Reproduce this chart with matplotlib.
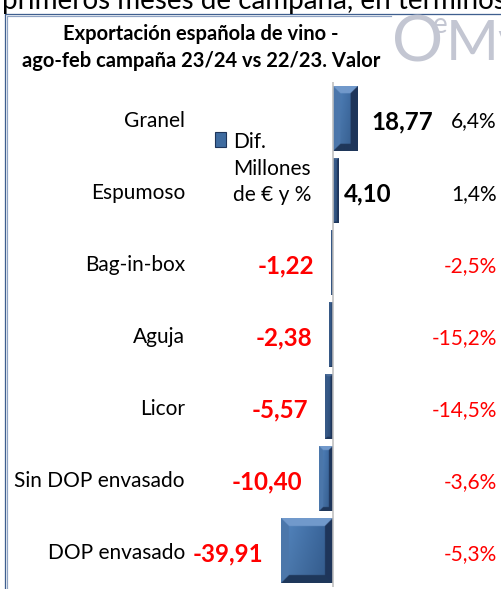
import numpy as np
import matplotlib
matplotlib.use('Agg')
import matplotlib.pyplot as plt
from matplotlib.lines import Line2D
from matplotlib.colors import to_rgb

# ---------------- data ----------------
categories = ['Granel', 'Espumoso', 'Bag-in-box', 'Aguja', 'Licor',
              'Sin DOP envasado', 'DOP envasado']
diff_values = [18.77, 4.10, -1.22, -2.38, -5.57, -10.40, -39.91]
pct_values = [6.4, 1.4, -2.5, -15.2, -14.5, -3.6, -5.3]
title_lines = ['Exportación española de vino -',
               'ago-feb campaña 23/24 vs 22/23. Valor']
legend_label = 'Dif.\nMillones\nde € y %'
header_text = 'primeros meses de campaña, en términos'

# ---------------- style ----------------
W, H, DPI = 502, 589, 100
PT = 72.0 / DPI
plt.rcParams['font.family'] = ['Lato', 'DejaVu Sans']
RED = '#FF0000'
value_gap_px = [14, 6, 17, 17, 17, 17, 17]


def fx(px):
    return px / W


def fy(py):
    return 1 - py / H


fig = plt.figure(figsize=(W / DPI, H / DPI), dpi=DPI)
fig.patch.set_facecolor('white')

ax_left, ax_right, ax_top, ax_bottom = 190, 500, 82.5, 587
ax = fig.add_axes([fx(ax_left), fy(ax_bottom), (ax_right - ax_left) / W,
                   (ax_bottom - ax_top) / H])
ax.set_facecolor('none')

ypos = np.arange(len(categories))
bars = ax.barh(ypos, diff_values, height=0.9, color='#3F6B9F',
               edgecolor='none', label=legend_label, zorder=2)
zero_px, scale = 332.5, 1.3
xlim = (-(zero_px - ax_left) / scale, (ax_right - zero_px) / scale)
ylim = (len(categories) - 0.5, -0.5)
ax.set_xlim(*xlim)
ax.set_ylim(*ylim)
ax.axvline(0, color='#BFBFBF', lw=1.6 * PT, zorder=4)

for s in ax.spines.values():
    s.set_visible(False)
ax.set_xticks([])
ax.set_yticks(ypos, categories, fontsize=15, color='black')
ax.tick_params(axis='y', length=0, pad=5 * PT)

# ---------------- bevel effect on bars ----------------
fig.canvas.draw()
renderer = fig.canvas.get_renderer()
c_top = np.array(to_rgb('#7199CB'))
c_bot = np.array(to_rgb('#1F375A'))
c_left = np.array(to_rgb('#4C77AB'))
c_right = np.array(to_rgb('#1E355A'))
c_c1 = np.array(to_rgb('#5282B9'))
c_c2 = np.array(to_rgb('#335C8F'))
for rect in bars:
    bb = rect.get_window_extent(renderer)
    pw, ph = bb.width, bb.height
    if pw < 0.5:
        continue
    ss = 4
    nx, ny = max(int(np.ceil(pw * ss)), 2), max(int(np.ceil(ph * ss)), 2)
    X = (np.arange(nx) + 0.5) / nx * pw
    Y = (np.arange(ny) + 0.5) / ny * ph
    XX, YY = np.meshgrid(X, Y)
    d = np.stack([YY, ph - YY, XX, pw - XX])
    b = min(8.0, pw * 0.3, ph * 0.3)
    idx = d.argmin(0)
    dmin = d.min(0)
    t = np.clip(XX / pw, 0, 1)[..., None]
    img = c_c1 * (1 - t) + c_c2 * t
    tv = np.clip(YY / ph, 0, 1)[..., None]
    img = img * (1.05 - 0.12 * tv)
    facets = [c_top, c_bot, c_left, c_right]
    for k, col in enumerate(facets):
        m = (dmin < b) & (idx == k)
        img[m] = col
    if pw < 8:
        img = img * 0.55 + c_right * 0.45
    img = np.clip(img, 0, 1)
    x0, w = rect.get_x(), rect.get_width()
    y0, h = rect.get_y(), rect.get_height()
    xl, xr = min(x0, x0 + w), max(x0, x0 + w)
    ax.imshow(img, extent=(xl, xr, y0 + h, y0), origin='upper',
              aspect='auto', interpolation='bilinear', clip_path=rect,
              zorder=3)
ax.set_xlim(*xlim)
ax.set_ylim(*ylim)

# ---------------- labels ----------------
for i, (v, g) in enumerate(zip(diff_values, value_gap_px)):
    txt = f'{v:.2f}'.replace('.', ',')
    ax.annotate(txt, (v, i), xytext=(np.sign(v) * g * PT, -3 * PT),
                textcoords='offset points',
                ha='left' if v > 0 else 'right', va='center',
                fontsize=17.4, fontweight='bold',
                color='black' if v > 0 else RED, zorder=5)

for i, p in enumerate(pct_values):
    txt = f'{p:.1f}%'.replace('.', ',')
    ax.annotate(txt, xy=(1, i), xycoords=('axes fraction', 'data'),
                xytext=(-3 * PT, -3 * PT), textcoords='offset points',
                ha='right', va='center', fontsize=15,
                color='black' if p > 0 else RED, zorder=5)

# ---------------- legend ----------------
leg = ax.legend(loc='upper left', bbox_to_anchor=(fx(215), fy(132)),
                bbox_transform=fig.transFigure, frameon=False,
                borderpad=0, borderaxespad=0, handlelength=0.55,
                handleheight=0.72, handletextpad=0.3, prop={'size': 15})
for t in leg.get_texts():
    t.set_linespacing(1.42)
for col in leg._legend_handle_box.get_children():
    for hp in col.get_children():
        hp.align = 'top'
for hnd in leg.legend_handles:
    hnd.set_edgecolor('#1E355A')
    hnd.set_linewidth(0.8)

# ---------------- titles & decorations ----------------
fig.text(fx(201), fy(34), title_lines[0], ha='center', va='center',
         fontsize=14.5, fontweight='bold')
fig.text(fx(201), fy(61), title_lines[1], ha='center', va='center',
         fontsize=14.5, fontweight='bold')
fig.text(fx(2), fy(8.5), header_text, ha='left', va='baseline',
         fontsize=20, color='black')

# logo
logo_col = '#C3C6D2'
fig.text(fx(392), fy(61), 'O', ha='left', va='baseline', fontsize=46,
         color=logo_col)
fig.text(fx(433), fy(33), 'e', ha='left', va='baseline', fontsize=20,
         color=logo_col)
fig.text(fx(446), fy(60), 'Mv', ha='left', va='baseline', fontsize=41,
         color=logo_col)

# frame (double line)
fig.add_artist(Line2D([fx(4.5), fx(4.5), fx(W)], [fy(H), fy(13.5), fy(13.5)],
                      color='#3F5F8F', lw=1.3 * PT))
fig.add_artist(Line2D([fx(7), fx(7), fx(391)], [fy(H), fy(16), fy(16)],
                      color='#8FA3C3', lw=1.2 * PT))

fig.savefig('out.png', dpi=DPI)
